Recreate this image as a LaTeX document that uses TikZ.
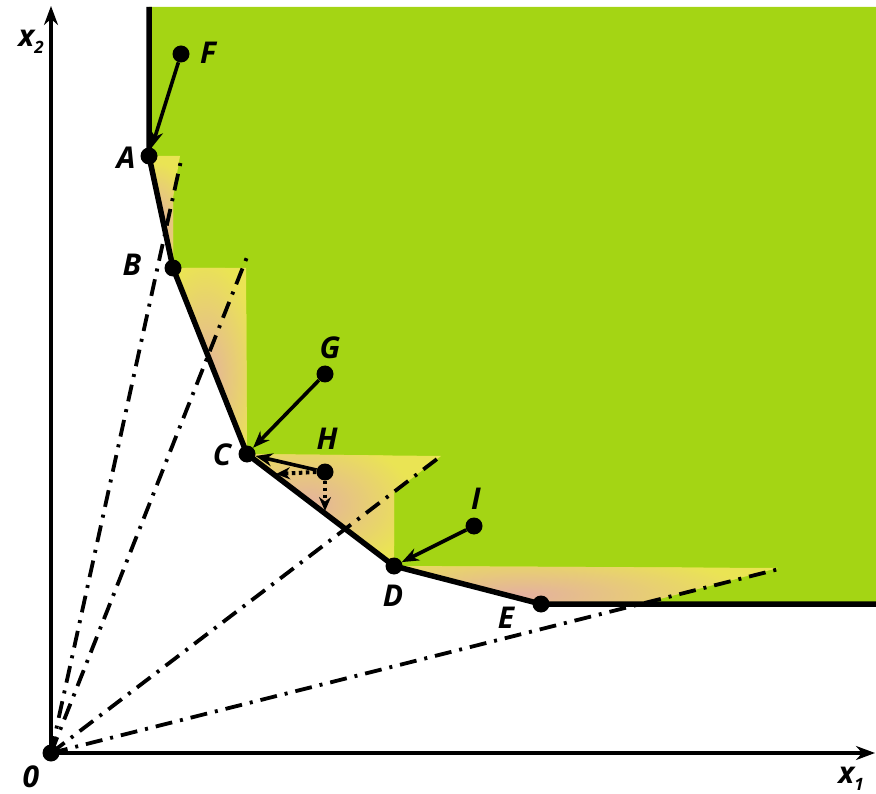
\documentclass[tikz,border=0pt]{standalone}
\usepackage{fontspec}
\setmainfont{Open Sans}
\usetikzlibrary{arrows.meta}
\definecolor{grn}{RGB}{164,213,20}
\definecolor{ylw}{RGB}{234,228,84}
\definecolor{pnk}{RGB}{228,176,160}
\begin{document}
\begin{tikzpicture}[x=1pt,y=-1pt,
  lbl/.style={font=\fontsize{30}{32}\selectfont\bfseries\itshape, inner sep=0pt},
  dot/.style={circle,fill=black,inner sep=0pt,minimum size=17pt},
  ray/.style={line width=3.8pt, dash pattern=on 17pt off 8pt on 3pt off 8pt},
  bound/.style={line width=5.5pt, line join=round},
  axis/.style={line width=4.2pt,-{Stealth[length=19pt,width=14pt]}},
  arr/.style={line width=3.6pt,-{Stealth[length=17pt,width=13pt]}},
  dotarr/.style={line width=4pt,dash pattern=on 3.5pt off 3.5pt,-{Stealth[length=14pt,width=12pt]}}]
\useasboundingbox (0,0) rectangle (876,794);
% key points
\coordinate (pO) at (51,753);
\coordinate (pA) at (149,156);
\coordinate (pB) at (173,268);
\coordinate (pC) at (247,454);
\coordinate (pD) at (394,566);
\coordinate (pE) at (541,604);
\coordinate (topL) at (149,7);
\coordinate (topR) at (876,7);
\coordinate (botR) at (876,604);
% ray ends
\coordinate (r1) at (182,156);
\coordinate (r2) at (247,257);
\coordinate (r3) at (441,456);
\coordinate (r4) at (783,568);
% green region
\fill[grn] (topL) -- (topR) -- (botR) -- (pE) -- (pD) -- (pC) -- (pB) -- (pA) -- cycle;
% shaded facets
\begin{scope}
  \clip (pA) -- (180,156) -- (173,197) -- (pB) -- cycle;
  \fill[ylw] (140,150) rectangle (190,270);
  \shade[inner color=pnk, outer color=ylw] (158,222) ellipse (30 and 60);
\end{scope}
\begin{scope}
  \clip (pB) -- (246,268) -- (247,454) -- cycle;
  \fill[ylw] (170,260) rectangle (250,460);
  \shade[inner color=pnk, outer color=ylw] (205,380) ellipse (55 and 120);
\end{scope}
\begin{scope}
  \clip (pC) -- (441,456) -- (394,492) -- (pD) -- cycle;
  \fill[ylw] (240,450) rectangle (450,570);
  \shade[inner color=pnk, outer color=ylw] (305,505) ellipse (110 and 70);
\end{scope}
\begin{scope}
  \clip (pD) -- (778,568) -- (640,604) -- (pE) -- cycle;
  \fill[ylw] (390,560) rectangle (790,610);
  \shade[inner color=pnk, outer color=ylw] (520,595) ellipse (230 and 45);
\end{scope}
% rays
\draw[ray] (pO) -- (r1);
\draw[ray] (pO) -- (r2);
\draw[ray] (pO) -- (r3);
\draw[ray] (pO) -- (r4);
% boundary
\draw[bound] (topL) -- (pA) -- (pB) -- (pC) -- (pD) -- (pE) -- (botR);
% axes
\coordinate (ytip) at (51,6);
\coordinate (xtip) at (875,753);
\draw[axis] (pO) -- (ytip);
\draw[axis] (pO) -- (xtip);
% dots
\node[dot] (O) at (pO) {};
\node[dot] (A) at (pA) {};
\node[dot] (B) at (pB) {};
\node[dot] (C) at (pC) {};
\node[dot] (D) at (pD) {};
\node[dot] (E) at (pE) {};
\node[dot] (F) at (181,54) {};
\node[dot] (G) at (325,374) {};
\node[dot] (H) at (325,472) {};
\node[dot] (I) at (474,526) {};
% arrows
\draw[arr] (F) -- (A);
\draw[arr] (G) -- (C);
\draw[arr] (H) -- (C);
\draw[arr] (I) -- (D);
\coordinate (hl) at (276,474);
\coordinate (hd) at (325,511);
\draw[dotarr] (H.west) -- (hl);
\draw[dotarr] (H.south) -- (hd);
% labels
\node[lbl] (lx2) at (31,42) {x\raisebox{-0.25em}{\fontsize{17}{17}\selectfont 2}};
\node[lbl] (lx1) at (851,779) {x\raisebox{-0.25em}{\fontsize{17}{17}\selectfont 1}};
\node[lbl] (l0) at (31,777) {0};
\node[lbl] (lF) at (208,53) {F};
\node[lbl] (lA) at (126,158) {A};
\node[lbl] (lB) at (132,265) {B};
\node[lbl] (lC) at (222,455) {C};
\node[lbl] (lG) at (330,348) {G};
\node[lbl] (lH) at (327,439) {H};
\node[lbl] (lI) at (476,499) {I};
\node[lbl] (lD) at (393,596) {D};
\node[lbl] (lE) at (506,618) {E};
\end{tikzpicture}
\end{document}
